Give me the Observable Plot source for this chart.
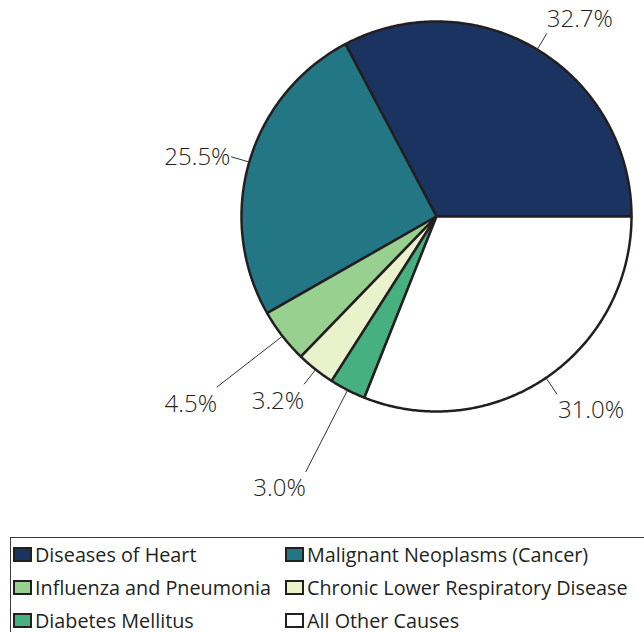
<!DOCTYPE html>
<html>
<head>
<meta charset="utf-8">
<script src="https://cdn.jsdelivr.net/npm/d3@7"></script>
<script src="https://cdn.jsdelivr.net/npm/@observablehq/plot@0.6"></script>
<style>
  html, body { margin: 0; padding: 0; background: #fff; }
  body { width: 644px; height: 632px; overflow: hidden; position: relative; font-family: "Open Sans", "Lato", sans-serif; }
  #chart { position: absolute; left: 0; top: 0; }
  #legend { position: absolute; left: 10px; top: 537px; width: 660px; height: 120px; border: 1.5px solid #3a3a3a; box-sizing: border-box; }
  .item { position: absolute; display: flex; align-items: center; font-size: 19.8px; font-weight: 400; color: #231f20; white-space: nowrap; height: 26px; }
  .sw { width: 15px; height: 11px; border: 2px solid #231f20; margin-right: 3px; }
</style>
</head>
<body>
<div id="chart"></div>
<div id="legend"></div>
<script>
// ---- data ----
const categories = [
  "Diseases of Heart",
  "Malignant Neoplasms (Cancer)",
  "Influenza and Pneumonia",
  "Chronic Lower Respiratory Disease",
  "Diabetes Mellitus",
  "All Other Causes"
];
const shares = [32.7, 25.5, 4.5, 3.2, 3.0, 31.0];
const shareLabels = ["32.7%", "25.5%", "4.5%", "3.2%", "3.0%", "31.0%"];

// ---- style / layout ----
const colors = ["#1b3360", "#237785", "#98d08f", "#eaf2cb", "#46b080", "#ffffff"];
const leaderOuter = [1.095, 1.095, 1.425, 1.095, 1.47, 1.1]; // leader end, in radii
const W = 644, H = 530, R = 195, CX = 436, CY = 216;

// ---- geometry from data ----
const total = d3.sum(shares);
const wedges = [];
const leaders = [];
const labelRows = [];
let a = 0;
categories.forEach((name, i) => {
  const span = shares[i] / total * 2 * Math.PI;
  const a0 = a, a1 = a + span;
  wedges.push({name, x: 0, y: 0});
  const n = Math.max(2, Math.ceil(span / (Math.PI / 360)));
  for (let k = 0; k <= n; k++) {
    const t = a0 + span * k / n;
    wedges.push({name, x: Math.cos(t), y: Math.sin(t)});
  }
  wedges.push({name, x: 0, y: 0});
  const m = (a0 + a1) / 2;
  const r0 = 1.0, r1 = leaderOuter[i];
  leaders.push({name, x: r0 * Math.cos(m), y: r0 * Math.sin(m)});
  leaders.push({name, x: r1 * Math.cos(m), y: r1 * Math.sin(m)});
  const s = Math.sin(m);
  labelRows.push({
    name, text: shareLabels[i],
    x: r1 * Math.cos(m), y: r1 * Math.sin(m),
    side: Math.cos(m) >= 0 ? "start" : "end",
    v: s > 0.5 ? "above" : (s < -0.5 ? "below" : "middle")
  });
  a = a1;
});

const labelMark = (side, v, dy, dx) => Plot.text(labelRows.filter(d => d.side === side && d.v === v), {
  x: "x", y: "y", text: "text", textAnchor: side, dy, dx,
  fontSize: 24, fontWeight: 300, fill: "#231f20", fontFamily: "Open Sans, Lato, sans-serif"
});

const chart = Plot.plot({
  width: W, height: H, margin: 0,
  x: {domain: [-CX / R, (W - CX) / R], axis: null},
  y: {domain: [-(H - CY) / R, CY / R], axis: null},
  color: {domain: categories, range: colors},
  marks: [
    Plot.line(wedges, {x: "x", y: "y", z: "name", fill: "name", stroke: "#231f20", strokeWidth: 2.5, strokeLinejoin: "round", curve: "linear"}),
    Plot.line(leaders, {x: "x", y: "y", z: "name", stroke: "#333", strokeWidth: 1}),
    labelMark("start", "above", -14, 0),
    labelMark("start", "below", 16, 1),
    labelMark("start", "middle", 0, 0),
    labelMark("end", "middle", 0, -1),
    labelMark("end", "below", 17, 0),
    labelMark("end", "above", -14, 0)
  ]
});
document.getElementById("chart").appendChild(chart);

// ---- legend ----
const legend = document.getElementById("legend");
categories.forEach((name, i) => {
  const col = i % 2, row = Math.floor(i / 2);
  const el = document.createElement("div");
  el.className = "item";
  el.style.left = (2 + col * 272) + "px";
  el.style.top = (3 + row * 33) + "px";
  const sw = document.createElement("span");
  sw.className = "sw";
  sw.style.background = colors[i];
  el.appendChild(sw);
  el.appendChild(document.createTextNode(name));
  legend.appendChild(el);
});
</script>
</body>
</html>
